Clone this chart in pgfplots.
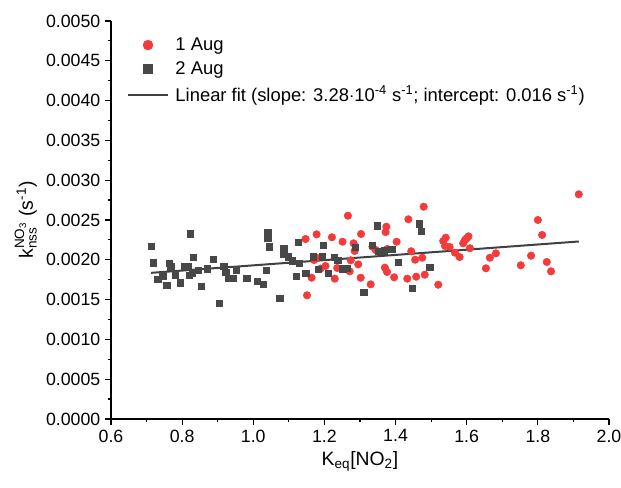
\documentclass[border=0pt]{standalone}
\usepackage{pgfplots}
\pgfplotsset{compat=1.18}
\usepackage{pgfplotstable}
\usepackage{amsmath}
\usepackage{fontspec}
\setmainfont{Liberation Sans}
\definecolor{redpt}{RGB}{244,58,58}
\definecolor{graypt}{RGB}{72,72,72}
\definecolor{fitline}{RGB}{64,64,64}

\pgfplotstableread{
x y
1.147 0.002261
1.178 0.002320
1.221 0.002283
1.251 0.002227
1.266 0.002554
1.282 0.002207
1.285 0.002111
1.171 0.001997
1.178 0.002026
1.189 0.001889
1.203 0.001922
1.236 0.001897
1.271 0.001855
1.274 0.001994
1.164 0.001775
1.229 0.001763
1.151 0.001554
1.295 0.001943
1.303 0.002324
1.302 0.001775
1.330 0.001692
1.335 0.002165
1.344 0.002123
1.374 0.002416
1.372 0.002349
1.377 0.002136
1.370 0.001901
1.376 0.001847
1.396 0.001780
1.403 0.002227
1.436 0.002509
1.433 0.001763
1.444 0.002107
1.455 0.002001
1.458 0.001788
1.475 0.002026
1.479 0.002667
1.482 0.001813
1.520 0.001687
1.534 0.002236
1.541 0.002278
1.539 0.002173
1.552 0.002161
1.567 0.002089
1.580 0.002035
1.590 0.002207
1.595 0.002249
1.600 0.002270
1.605 0.002295
1.609 0.002145
1.654 0.001893
1.665 0.002026
1.682 0.002081
1.752 0.001931
1.781 0.002052
1.800 0.002500
1.812 0.002312
1.825 0.001972
1.837 0.001855
1.915 0.002823
}\augone

\pgfplotstableread{
x y
0.713 0.002173
0.718 0.001964
0.732 0.001755
0.746 0.001800
0.757 0.001683
0.763 0.001960
0.768 0.001910
0.781 0.001813
0.794 0.001712
0.806 0.001918
0.817 0.001918
0.820 0.001805
0.823 0.002328
0.829 0.001830
0.831 0.002035
0.845 0.001868
0.853 0.001671
0.870 0.001889
0.887 0.002010
0.904 0.001453
0.917 0.001922
0.923 0.001843
0.930 0.001771
0.944 0.001771
0.952 0.001876
0.982 0.001771
1.011 0.001730
1.028 0.001692
1.037 0.001872
1.041 0.002341
1.041 0.002278
1.045 0.002165
1.075 0.001516
1.086 0.002140
1.086 0.002073
1.098 0.002039
1.109 0.001989
1.120 0.001793
1.126 0.002220
1.129 0.001956
1.148 0.001830
1.168 0.002039
1.182 0.001881
1.194 0.002048
1.196 0.002182
1.210 0.001834
1.227 0.002031
1.237 0.001994
1.251 0.001889
1.264 0.001893
1.287 0.002161
1.311 0.001592
1.335 0.002182
1.349 0.002429
1.351 0.002107
1.368 0.002114
1.389 0.002132
1.408 0.001969
1.447 0.001646
1.467 0.002454
1.472 0.002358
1.496 0.001906
}\augtwo

\begin{document}
\begin{tikzpicture}
\begin{axis}[
  scale only axis,
  width=373.5pt, height=298.5pt,
  xmin=0.6, xmax=2.0, ymin=0, ymax=0.005,
  axis x line*=bottom, axis y line*=left,
  axis line style={line width=1pt, -},
  tick align=outside,
  major tick length=4.5pt, minor tick length=2.6pt,
  every tick/.style={black, line width=0.9pt},
  xtick={0.6,0.8,...,2.01}, minor x tick num=1,
  ytick={0,0.0005,...,0.00501}, minor y tick num=1,
  scaled y ticks=false, scaled x ticks=false,
  yticklabel style={/pgf/number format/.cd, fixed, fixed zerofill, precision=4, assume math mode=true},
  xticklabel style={/pgf/number format/.cd, fixed, fixed zerofill, precision=1, assume math mode=true},
  tick label style={font=\fontsize{13.3}{15}\selectfont},
  label style={font=\fontsize{14.5}{17}\selectfont},
  xlabel={K$_{\text{eq}}$[NO$_{\text{2}}$]},
  ylabel={k$^{\text{NO}_{\text{3}}}_{\text{nss}}$ (s$^{\text{-1}}$)},
  legend style={draw=none, fill=none, at={(0.024,0.972)}, anchor=north west,
    font=\fontsize{13.8}{15.5}\selectfont, row sep=3pt,
    /tikz/every odd column/.append style={column sep=3pt}},
  legend cell align=left,
  clip=false,
]
\coordinate (bl) at (rel axis cs:0,0);
\coordinate (tr) at (rel axis cs:1,1);
\addplot[only marks, mark=*, mark size=2.8pt, draw=redpt, fill=redpt,
  legend image code/.code={\fill[redpt] (15pt,0pt) circle (3.7pt);}]
  table[x=x,y=y] {\augone};
\addlegendentry{1 Aug}
\addplot[only marks, mark=square*, mark size=2.4pt, draw=graypt, fill=graypt,
  legend image code/.code={\fill[graypt] (11.6pt,-3.4pt) rectangle (18.4pt,3.4pt);}]
  table[x=x,y=y] {\augtwo};
\addlegendentry{2 Aug}
\addplot[fitline, line width=1.5pt, no marks,
  legend image code/.code={\draw[fitline, line width=1.2pt] (0pt,0pt) -- (30pt,0pt);}]
  coordinates {(0.7126,0.001836) (1.915,0.002230)};
\addlegendentry{Linear fit (slope: 3.28$\cdot$10$^{\text{-4}}$ s$^{\text{-1}}$; intercept: 0.016 s$^{\text{-1}}$)}
\end{axis}
\pgfresetboundingbox
\path[use as bounding box] ([xshift=-83.25pt,yshift=-51.75pt]bl) rectangle ([xshift=9pt,yshift=15.75pt]tr);
\end{tikzpicture}
\end{document}
